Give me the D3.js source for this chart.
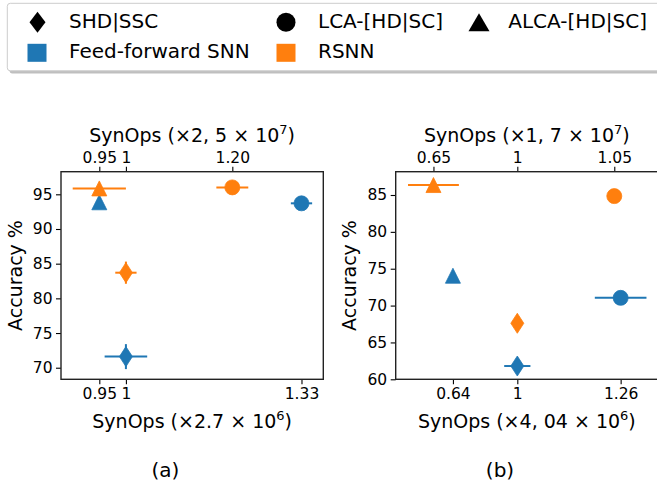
<!DOCTYPE html>
<html>
<head>
<meta charset="utf-8">
<script src="https://cdn.jsdelivr.net/npm/d3@7"></script>
<style>
  body { margin: 0; background: #fff; }
  svg { display: block; font-family: "DejaVu Sans", sans-serif; }
</style>
</head>
<body>
<div id="chart"></div>
<script>
"use strict";

// ---- data ----
const seriesNames = ["Feed-forward SNN", "RSNN"];
const datasetNames = ["SHD|SSC", "LCA-[HD|SC]", "ALCA-[HD|SC]"];
const markerKinds = ["diamond", "circle", "triangle"];

// panel (a): SHD, LCA, ALCA
const aFfX = [1.0, 1.33, 0.95];
const aFfY = [71.6, 93.7, 93.85];
const aFfXErr = [0.04, 0.02, 0];
const aFfYErr = [1.8, 0, 0];
const aRsX = [1.0, 1.20, 0.95];
const aRsY = [83.7, 96.0, 95.85];
const aRsXErr = [0.02, 0.03, 0.05];
const aRsYErr = [1.6, 0, 0];
const aBottomTicks = [0.95, 1, 1.33];
const aBottomLabels = ["0.95", "1", "1.33"];
const aTopTicks = [0.95, 1, 1.20];
const aTopLabels = ["0.95", "1", "1.20"];
const aYTicks = [70, 75, 80, 85, 90, 95];
const aXLim = [0.878, 1.371];
const aYLim = [68.33, 98.26];

// panel (b): SSC, LCA-SC, ALCA-SC
const bFfX = [1.0, 1.26, 0.838];
const bFfY = [61.8, 71.05, 74.05];
const bFfXErr = [0.033, 0.065, 0];
const bFfYErr = [0, 0, 0];
const bRsX = [1.0, 1.244, 0.789];
const bRsY = [67.6, 84.85, 86.35];
const bRsXErr = [0, 0, 0.064];
const bRsYErr = [0, 0, 0];
const bBottomTicks = [0.838, 1, 1.26];
const bBottomLabels = ["0.64", "1", "1.26"];
const bTopTicks = [0.789, 1, 1.244];
const bTopLabels = ["0.65", "1", "1.05"];
const bYTicks = [60, 65, 70, 75, 80, 85];
const bXLim = [0.694, 1.354];
const bYLim = [60, 88.16];

const colors = ["#1f77b4", "#ff7f0e"];

const W = 657, H = 485;
const svg = d3.select("#chart").append("svg")
    .attr("width", W)
    .attr("height", H);

function markerPath(kind, w, h) {
    if (kind === "circle") {
        let p = d3.path();
        p.arc(0, 0, w / 2, 0, 2 * Math.PI);
        return p.toString();
    }
    if (kind === "triangle")
        return `M0,${-h / 2}L${w / 2},${h / 2}L${-w / 2},${h / 2}Z`;
    return `M0,${-h / 2}L${w / 2},0L0,${h / 2}L${-w / 2},0Z`;
}

const markerSize = {
    circle: [15, 15],
    triangle: [15, 15],
    diamond: [13, 20]
};

function axisLabel(g, x, y, pre, base, sup, rotate) {
    let t = g.append("text")
        .attr("x", x).attr("y", y)
        .attr("text-anchor", "middle")
        .attr("font-size", 19)
        .attr("fill", "#000");
    t.append("tspan").text(pre + base);
    t.append("tspan").attr("font-size", 13).attr("dy", -8).text(sup);
    t.append("tspan").attr("dy", 8).text(")");
}

function drawPanel(box, p) {
    let g = svg.append("g");
    let x = d3.scaleLinear().domain(p.xLim).range([box.left, box.right]);
    let y = d3.scaleLinear().domain(p.yLim).range([box.bottom, box.top]);

    // axes
    let yAxis = d3.axisLeft(y).tickValues(p.yTicks).tickSize(5).tickPadding(3.5)
        .tickFormat(d3.format("d"));
    let bottomAxis = d3.axisBottom(x).tickValues(p.bottomTicks).tickSize(5).tickPadding(3.5)
        .tickFormat((d, i) => p.bottomLabels[i]);
    let topAxis = d3.axisTop(x).tickValues(p.topTicks).tickSize(5).tickPadding(3.5)
        .tickFormat((d, i) => p.topLabels[i]);

    let gy = g.append("g").attr("transform", `translate(${box.left},0)`).call(yAxis);
    let gb = g.append("g").attr("transform", `translate(0,${box.bottom})`).call(bottomAxis);
    let gt = g.append("g").attr("transform", `translate(0,${box.top})`).call(topAxis);
    [gy, gb, gt].forEach(a => {
        a.select(".domain").remove();
        a.selectAll(".tick line").attr("stroke", "#000").attr("stroke-width", 1.1);
        a.selectAll(".tick text").attr("font-size", 15.5).attr("fill", "#000")
            .attr("font-family", "DejaVu Sans, sans-serif");
    });

    // series
    let series = [
        {x: p.ffX, y: p.ffY, xe: p.ffXErr, ye: p.ffYErr, c: colors[0]},
        {x: p.rsX, y: p.rsY, xe: p.rsXErr, ye: p.rsYErr, c: colors[1]}
    ];
    series.forEach(s => {
        let pts = s.x.map((v, i) => ({x: v, y: s.y[i], xe: s.xe[i], ye: s.ye[i], kind: markerKinds[i]}));
        let sg = g.append("g");
        pts.forEach(d => {
            if (d.xe > 0)
                sg.append("line")
                    .attr("x1", x(d.x - d.xe)).attr("x2", x(d.x + d.xe))
                    .attr("y1", y(d.y)).attr("y2", y(d.y))
                    .attr("stroke", s.c).attr("stroke-width", 2);
            if (d.ye > 0)
                sg.append("line")
                    .attr("x1", x(d.x)).attr("x2", x(d.x))
                    .attr("y1", y(d.y - d.ye)).attr("y2", y(d.y + d.ye))
                    .attr("stroke", s.c).attr("stroke-width", 2);
        });
        sg.selectAll("path.mk")
            .data(pts)
            .join("path")
            .attr("class", "mk")
            .attr("transform", d => `translate(${x(d.x)},${y(d.y)})`)
            .attr("d", d => markerPath(d.kind, markerSize[d.kind][0], markerSize[d.kind][1]))
            .attr("fill", s.c)
            .attr("stroke", s.c)
            .attr("stroke-width", 0.8);
    });

    // frame
    g.append("rect")
        .attr("x", box.left).attr("y", box.top)
        .attr("width", box.right - box.left)
        .attr("height", box.bottom - box.top)
        .attr("fill", "none")
        .attr("stroke", "#222")
        .attr("stroke-width", 1.4);

    let cx = (box.left + box.right) / 2;
    axisLabel(g, cx, 142, "SynOps (", p.topBase, p.topSup);
    axisLabel(g, cx, 428, "SynOps (", p.bottomBase, p.bottomSup);

    g.append("text")
        .attr("transform", `translate(${box.left - 39.5},${(box.top + box.bottom) / 2}) rotate(-90)`)
        .attr("text-anchor", "middle")
        .attr("font-size", 19)
        .text("Accuracy %");

    g.append("text")
        .attr("x", p.captionX).attr("y", 477)
        .attr("text-anchor", "middle")
        .attr("font-size", 20)
        .text(p.caption);
}

drawPanel({left: 61, right: 323.3, top: 171.7, bottom: 379.3}, {
    ffX: aFfX, ffY: aFfY, ffXErr: aFfXErr, ffYErr: aFfYErr,
    rsX: aRsX, rsY: aRsY, rsXErr: aRsXErr, rsYErr: aRsYErr,
    bottomTicks: aBottomTicks, bottomLabels: aBottomLabels,
    topTicks: aTopTicks, topLabels: aTopLabels,
    yTicks: aYTicks, xLim: aXLim, yLim: aYLim,
    topBase: "\u00d72, 5 \u00d7 10", topSup: "7",
    bottomBase: "\u00d72.7 \u00d7 10", bottomSup: "6",
    caption: "(a)", captionX: 165.5
});

drawPanel({left: 395.7, right: 658, top: 171.7, bottom: 379.3}, {
    ffX: bFfX, ffY: bFfY, ffXErr: bFfXErr, ffYErr: bFfYErr,
    rsX: bRsX, rsY: bRsY, rsXErr: bRsXErr, rsYErr: bRsYErr,
    bottomTicks: bBottomTicks, bottomLabels: bBottomLabels,
    topTicks: bTopTicks, topLabels: bTopLabels,
    yTicks: bYTicks, xLim: bXLim, yLim: bYLim,
    topBase: "\u00d71, 7 \u00d7 10", topSup: "7",
    bottomBase: "\u00d74, 04 \u00d7 10", bottomSup: "6",
    caption: "(b)", captionX: 500
});

// ---- legend ----
let leg = svg.append("g");
leg.append("rect")
    .attr("x", 9.5).attr("y", 6).attr("width", 660).attr("height", 67.5)
    .attr("rx", 3)
    .attr("fill", "#808080").attr("opacity", 0.5);
leg.append("rect")
    .attr("x", 7.3).attr("y", 3.3).attr("width", 660).attr("height", 67.5)
    .attr("rx", 3)
    .attr("fill", "#fff").attr("stroke", "#cccccc").attr("stroke-width", 1);

let legItems = [
    {label: datasetNames[0], kind: "diamond", w: 16, h: 21, fill: "#000", mx: 37.5, tx: 69, ty: 28.3},
    {label: datasetNames[1], kind: "circle", w: 19, h: 19, fill: "#000", mx: 286, tx: 318, ty: 28.3},
    {label: datasetNames[2], kind: "triangle", w: 21, h: 18, fill: "#000", mx: 479, tx: 508.3, ty: 28.3},
    {label: seriesNames[0], kind: "square", w: 19, h: 18, fill: colors[0], mx: 37, tx: 69, ty: 58.3},
    {label: seriesNames[1], kind: "square", w: 19, h: 18, fill: colors[1], mx: 286, tx: 318, ty: 58.3}
];
legItems.forEach(d => {
    let my = d.ty - 6;
    if (d.kind === "square")
        leg.append("rect")
            .attr("x", d.mx - d.w / 2).attr("y", my - d.h / 2 + 0.5)
            .attr("width", d.w).attr("height", d.h)
            .attr("fill", d.fill);
    else
        leg.append("path")
            .attr("transform", `translate(${d.mx},${my})`)
            .attr("d", markerPath(d.kind, d.w, d.h))
            .attr("fill", d.fill);
    leg.append("text")
        .attr("x", d.tx).attr("y", d.ty)
        .attr("font-size", 20)
        .text(d.label);
});
</script>
</body>
</html>
